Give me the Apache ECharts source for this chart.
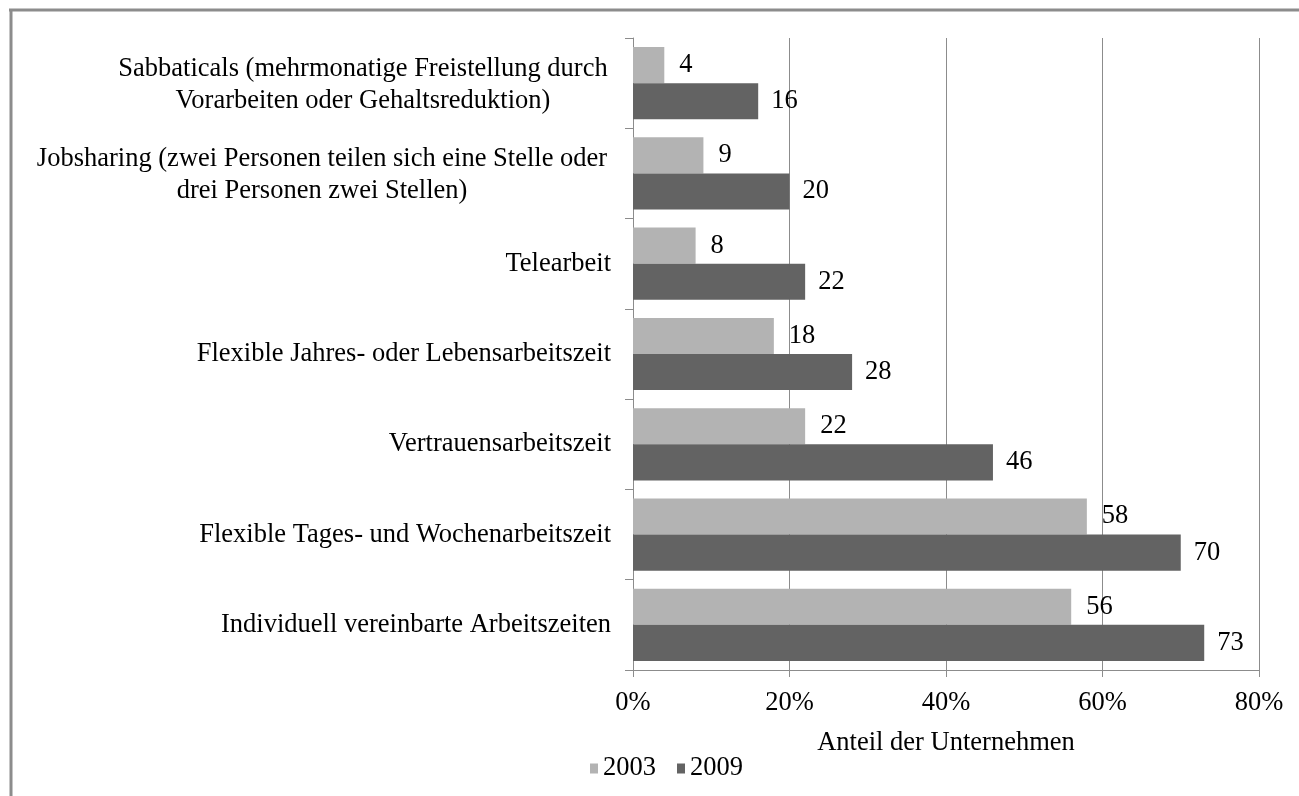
<!DOCTYPE html>
<html>
<head>
<meta charset="utf-8">
<script src="https://cdn.jsdelivr.net/npm/echarts@6/dist/echarts.min.js"></script>
<style>
html, body { margin: 0; padding: 0; background: #fff; }
#main { width: 1299px; height: 796px; }
</style>
</head>
<body>
<div id="main"></div>
<script>
// categories top to bottom
var categories = [
  'Sabbaticals (mehrmonatige Freistellung durch\nVorarbeiten oder Gehaltsreduktion)',
  'Jobsharing (zwei Personen teilen sich eine Stelle oder\ndrei Personen zwei Stellen)',
  'Telearbeit',
  'Flexible Jahres- oder Lebensarbeitszeit',
  'Vertrauensarbeitszeit',
  'Flexible Tages- und Wochenarbeitszeit',
  'Individuell vereinbarte Arbeitszeiten'
]
var values2003 = [4, 9, 8, 18, 22, 58, 56]
var values2009 = [16, 20, 22, 28, 46, 70, 73]
var xTicks = [0, 20, 40, 60, 80]

var font = '"Liberation Serif", "Times New Roman", serif'
var fs = 26.5
var gray = '#8c8c8c'

// multi-line labels are centered inside their block, block sits right
function catLabel (v) {
  var lines = v.split('\n')
  if (lines.length === 1) return v
  var w = v.indexOf('Jobsharing') === 0 ? 578 : 496
  return lines.map(function (l) { return '{c' + w + '|' + l + '}' }).join('\n')
}

var chart = echarts.init(document.getElementById('main'))
chart.setOption({
  animation: false,
  textStyle: { fontFamily: font },
  grid: { left: 633, right: 40, top: 38, bottom: 126 },
  legend: {
    data: ['2003', '2009'],
    left: 585,
    top: 750,
    itemWidth: 8,
    itemHeight: 10,
    itemGap: 21,
    icon: 'rect',
    textStyle: { fontFamily: font, fontSize: fs, color: '#000' }
  },
  xAxis: {
    type: 'value',
    min: 0,
    max: 80,
    interval: 20,
    name: 'Anteil der Unternehmen',
    nameLocation: 'middle',
    nameGap: 60,
    nameTextStyle: { fontFamily: font, fontSize: fs, color: '#000' },
    axisLine: { show: true, lineStyle: { color: gray, width: 1 } },
    axisTick: { show: true, length: 7, lineStyle: { color: gray } },
    axisLabel: {
      margin: 20,
      fontFamily: font,
      fontSize: fs,
      color: '#000',
      formatter: function (v) { return xTicks.indexOf(v) >= 0 ? v + '%' : '' }
    },
    splitLine: { show: true, lineStyle: { color: gray, width: 1 } }
  },
  yAxis: {
    type: 'category',
    inverse: true,
    data: categories,
    axisLine: { show: true, lineStyle: { color: gray, width: 1 } },
    axisTick: { show: true, length: 8, lineStyle: { color: gray } },
    axisLabel: {
      margin: 22,
      fontFamily: font,
      fontSize: fs,
      color: '#000',
      lineHeight: 32,
      formatter: catLabel,
      rich: {
        c496: { width: 496, align: 'center', fontFamily: font, fontSize: fs, lineHeight: 32, color: '#000', padding: [3, 0, 0, 0] },
        c578: { width: 578, align: 'center', fontFamily: font, fontSize: fs, lineHeight: 32, color: '#000', padding: [3, 0, 0, 0] }
      }
    }
  },
  series: [
    {
      name: '2003',
      type: 'bar',
      data: values2003,
      barGap: '0%',
      barCategoryGap: '20%',
      itemStyle: { color: '#b3b3b3' },
      label: { show: true, position: 'right', distance: 15, fontFamily: font, fontSize: fs, color: '#000' }
    },
    {
      name: '2009',
      type: 'bar',
      data: values2009,
      barGap: '0%',
      barCategoryGap: '20%',
      itemStyle: { color: '#636363' },
      label: { show: true, position: 'right', distance: 13, fontFamily: font, fontSize: fs, color: '#000' }
    }
  ],
  graphic: [
    { type: 'line', shape: { x1: 9, y1: 10, x2: 1299, y2: 10 }, style: { stroke: gray, lineWidth: 3 } },
    { type: 'line', shape: { x1: 11, y1: 9, x2: 11, y2: 796 }, style: { stroke: gray, lineWidth: 3 } }
  ]
})
</script>
</body>
</html>
